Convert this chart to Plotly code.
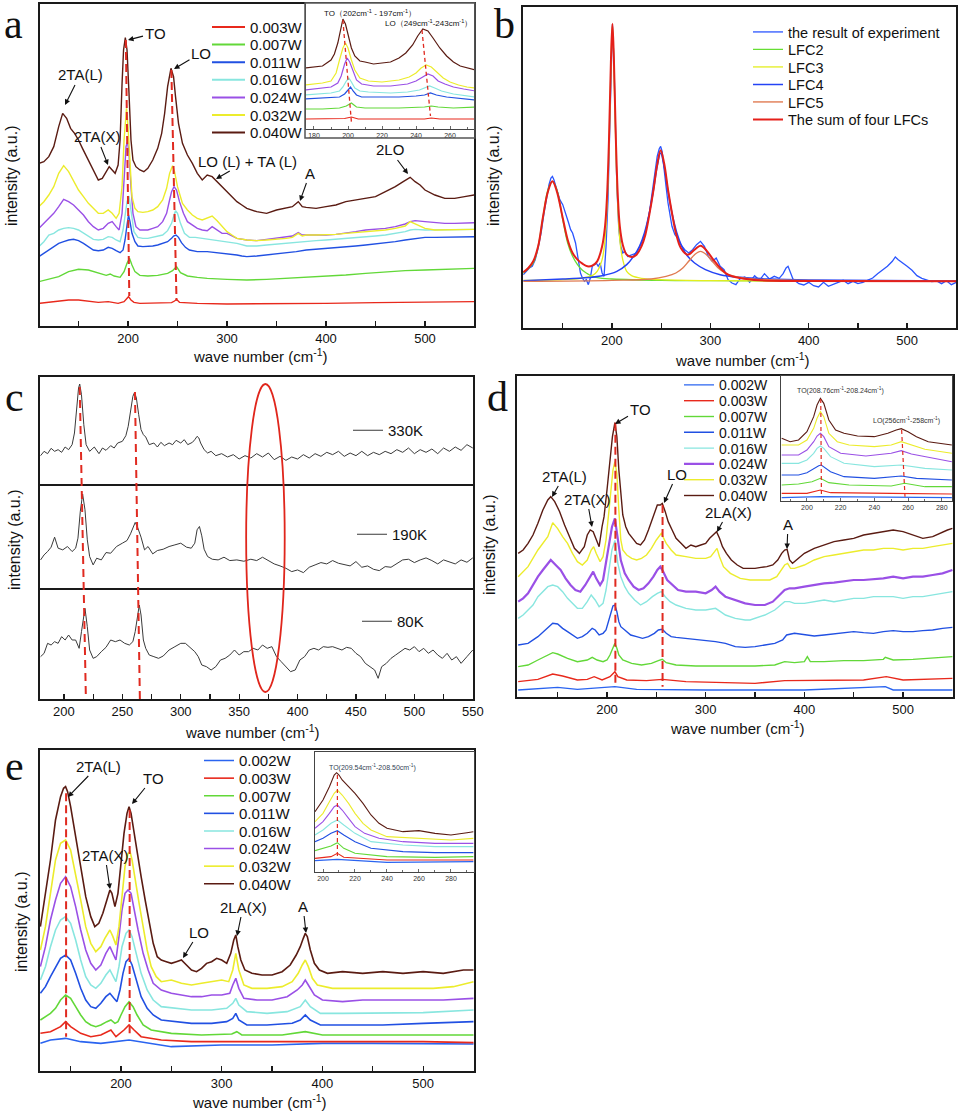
import plotly.graph_objects as go

W, H = 960, 1114
SANS = "Liberation Sans, Arial, Helvetica, sans-serif"
SERIF = "Liberation Serif, DejaVu Serif, Times New Roman, serif"


def X(p):
    return p / W


def Y(p):
    return 1 - p / H


# ---------------------------------------------------------------- labels
POWERS = ["0.002W", "0.003W", "0.007W", "0.011W", "0.016W", "0.024W", "0.032W", "0.040W"]
FIT_NAMES = ["the result of experiment", "LFC2", "LFC3", "LFC4", "LFC5", "The sum of four LFCs"]
TEMPS = ["330K", "190K", "80K"]

# ================================================================ panel a (main)
A040_WN = [110, 115, 120, 125, 130, 134, 138, 142, 146, 150, 154, 158, 162, 166, 170, 174, 178, 181, 184, 187,
           190, 192, 194, 195.5, 197.3, 199, 201, 203, 205, 208, 212, 216, 220, 225, 230, 234, 237, 240, 243.4, 246,
           248, 251, 255, 260, 265, 270, 275, 280, 285, 290, 295, 300, 305, 310, 315, 320, 330, 340, 350, 360,
           366, 372, 376, 380, 390, 400, 410, 420, 430, 440, 450, 460, 470, 478, 485, 490, 495, 500, 510, 520,
           530, 540, 550]
A040_I = [510, 515, 530, 560, 620, 660, 645, 615, 600, 580, 555, 530, 505, 485, 460, 465, 485, 500, 490, 480,
          505, 580, 750, 850, 887, 850, 720, 580, 520, 500, 490, 485, 495, 520, 555, 600, 660, 740, 795, 770,
          710, 630, 570, 535, 510, 480, 460, 475, 470, 455, 440, 425, 410, 395, 385, 375, 365, 360, 370, 375,
          380, 395, 380, 378, 375, 380, 385, 395, 400, 403, 410, 425, 440, 455, 468, 455, 445, 430, 415, 405,
          405, 410, 415]
A032_WN = [110, 115, 120, 125, 130, 135, 140, 145, 150, 155, 160, 165, 170, 175, 180, 184, 188, 191, 194, 196,
           198.5, 200, 202, 204, 207, 210, 215, 220, 225, 230, 235, 239, 242, 245, 247, 250, 255, 260, 265, 270,
           275, 280, 285, 290, 295, 300, 305, 310, 320, 330, 340, 350, 360, 366, 372, 376, 380, 390, 400, 410,
           420, 430, 440, 450, 460, 470, 480, 485, 490, 500, 510, 520, 530, 540, 550]
A032_I = [380, 395, 415, 440, 480, 503, 485, 455, 430, 410, 390, 375, 360, 360, 370, 360, 345, 360, 440, 580,
          675, 620, 500, 410, 375, 365, 363, 365, 370, 380, 400, 435, 480, 503, 485, 440, 390, 370, 355, 345,
          340, 345, 352, 338, 320, 305, 295, 285, 280, 278, 280, 282, 285, 288, 300, 292, 295, 295, 295, 297,
          300, 302, 305, 308, 310, 315, 322, 335, 328, 315, 310, 310, 310, 312, 312]
A024_WN = [110, 115, 120, 125, 130, 135, 140, 145, 150, 155, 160, 165, 170, 175, 180, 184, 188, 191, 194, 196,
           198, 199.5, 201, 203, 205, 208, 212, 216, 220, 225, 230, 235, 239, 242, 244, 246.5, 249, 252, 256, 260,
           265, 270, 275, 280, 285, 290, 295, 300, 310, 320, 330, 340, 350, 360, 366, 372, 376, 380, 390, 400,
           410, 420, 430, 440, 450, 460, 470, 480, 485, 490, 500, 510, 520, 530, 540, 550]
A024_I = [315, 330, 345, 360, 380, 402, 395, 385, 370, 355, 335, 320, 310, 315, 330, 335, 320, 310, 360, 480,
          560, 575, 540, 440, 360, 320, 310, 310, 310, 315, 320, 335, 360, 400, 425, 440, 430, 395, 360, 335,
          325, 315, 310, 308, 320, 310, 300, 300, 285, 280, 278, 282, 285, 288, 292, 302, 295, 295, 294, 295,
          297, 300, 305, 310, 312, 315, 320, 328, 335, 338, 335, 332, 330, 330, 332, 332]
A016_WN = [110, 115, 120, 125, 130, 135, 140, 145, 150, 155, 160, 165, 170, 175, 180, 184, 188, 192, 195, 197,
           199, 201, 203, 206, 210, 215, 220, 225, 230, 235, 240, 244, 246, 248, 250, 253, 257, 262, 268, 275,
           280, 285, 290, 300, 310, 320, 330, 340, 350, 360, 370, 380, 390, 400, 410, 420, 430, 440, 450, 460,
           470, 480, 485, 490, 500, 510, 520, 530, 540, 550]
A016_I = [260, 275, 295, 300, 310, 315, 317, 315, 310, 300, 290, 282, 280, 282, 290, 288, 280, 275, 310, 350,
          395, 412, 370, 305, 288, 285, 285, 288, 290, 295, 308, 330, 350, 368, 360, 330, 300, 288, 288, 285,
          285, 282, 280, 275, 270, 262, 262, 265, 268, 270, 272, 275, 278, 280, 282, 285, 288, 290, 292, 295,
          300, 305, 310, 312, 310, 310, 312, 312, 312, 312]
A011_WN = [110, 115, 120, 125, 130, 135, 140, 145, 150, 155, 160, 165, 170, 175, 180, 184, 188, 192, 195, 197,
           199, 200.5, 202, 204, 207, 210, 215, 220, 225, 230, 235, 240, 244, 246, 248.5, 251, 254, 258, 262, 270,
           280, 290, 300, 310, 315, 320, 330, 340, 350, 360, 370, 380, 390, 400, 410, 420, 430, 440, 450, 460,
           470, 480, 490, 500, 510, 520, 530, 540, 550]
A011_I = [230, 240, 250, 260, 270, 275, 280, 282, 278, 270, 260, 250, 248, 250, 258, 255, 248, 242, 250, 280,
          325, 355, 335, 300, 275, 262, 260, 260, 262, 265, 270, 275, 285, 292, 295, 288, 272, 258, 250, 245,
          245, 242, 240, 235, 232, 230, 232, 235, 238, 242, 245, 250, 252, 255, 257, 260, 262, 265, 268, 272,
          275, 280, 285, 288, 288, 288, 288, 290, 290]
A007_WN = [110, 120, 130, 140, 150, 160, 170, 178, 182, 186, 192, 196, 199, 201.5, 204, 207, 212, 220, 230, 240,
           245, 249, 253, 260, 270, 280, 300, 320, 340, 360, 380, 400, 420, 440, 460, 480, 500, 520, 540, 550]
A007_I = [155, 162, 170, 185, 192, 190, 180, 174, 178, 172, 168, 185, 210, 225, 205, 185, 174, 172, 174, 180,
          188, 200, 182, 172, 168, 165, 162, 160, 162, 165, 170, 172, 175, 180, 185, 188, 190, 192, 195, 195]
A003_WN = [110, 120, 130, 140, 150, 160, 170, 180, 185, 190, 196, 198, 200.5, 203, 206, 212, 230, 244, 247, 249,
           252, 270, 300, 350, 400, 450, 500, 550]
A003_I = [90, 93, 95, 100, 100, 97, 93, 95, 92, 90, 95, 102, 110, 100, 93, 90, 90, 92, 97, 102,
          93, 90, 88, 88, 90, 92, 93, 95]
A_TO_GUIDE_WN = [197.8, 201.3]
A_TO_GUIDE_I = [880, 112]
A_LO_GUIDE_WN = [243.8, 249.0]
A_LO_GUIDE_I = [790, 98]

# ---------------------------------------------------------------- panel a (inset)
AI040_WN = [175, 180, 185, 190, 192, 194, 195.5, 197, 198.5, 200, 202, 204, 207, 210, 215, 220, 225, 230, 234, 238,
            241, 244, 247, 250, 254, 258, 262, 266, 270, 275]
AI040_I = [60, 61, 62, 68, 74, 85, 98, 109, 104, 93, 80, 72, 67, 66, 64, 65, 66, 70, 75, 83,
           92, 99, 97, 90, 80, 72, 66, 62, 60, 58]
AI032_WN = [175, 180, 185, 190, 193, 195, 197, 198.5, 200, 202, 204, 207, 212, 220, 230, 236, 240, 243, 246, 249,
            252, 256, 260, 265, 270, 275]
AI032_I = [43, 44, 45, 47, 55, 68, 80, 85, 80, 68, 58, 50, 47, 46, 48, 51, 55, 60, 63, 61,
           56, 50, 46, 43, 41, 40]
AI024_WN = [175, 180, 185, 190, 194, 196, 198, 199.5, 201, 203, 205, 208, 215, 225, 235, 240, 244, 247, 250, 253,
            257, 262, 268, 275]
AI024_I = [38, 39, 40, 41, 45, 52, 64, 70, 66, 56, 48, 44, 42, 42, 44, 47, 51, 54, 52, 47,
           44, 41, 39, 37]
AI016_WN = [175, 185, 190, 195, 197, 199, 200.5, 202, 204, 207, 212, 225, 235, 242, 245, 248, 251, 255, 262, 275]
AI016_I = [33, 34, 35, 37, 41, 47, 50, 46, 40, 37, 36, 35, 36, 38, 40, 42, 40, 37, 34, 31]
AI011_WN = [175, 185, 190, 195, 198, 200, 201.5, 203, 205, 208, 215, 230, 240, 245, 248.5, 252, 258, 265, 275]
AI011_I = [29, 30, 30, 31, 34, 38, 41, 37, 33, 31, 31, 31, 32, 33, 35, 33, 31, 30, 28]
AI007_WN = [175, 185, 195, 199, 202, 205, 210, 230, 245, 249, 253, 262, 275]
AI007_I = [19, 19, 20, 22, 25, 21, 20, 20, 21, 22, 21, 20, 21]
AI003_WN = [175, 190, 198, 202, 206, 215, 245, 249, 254, 275]
AI003_I = [9, 9, 9.5, 11, 9, 9, 9, 10, 9, 9]
AI_TO_GUIDE_WN = [197, 202]
AI_TO_GUIDE_I = [108, 6]
AI_LO_GUIDE_WN = [243.5, 248.5]
AI_LO_GUIDE_I = [98, 12]

# ================================================================ panel b
B_EXP_WN = [110, 113, 116, 119, 122, 125, 128, 131, 134, 136, 138, 139.5, 141, 143, 145, 147, 150, 153, 156, 158,
            160, 163, 166, 168, 170, 172, 174, 176, 178, 180, 182, 184, 186, 188, 190, 192, 194, 196, 197.5, 199,
            200.5, 202, 203.5, 205, 207, 209, 211, 213, 216, 220, 225, 230, 234, 238, 241, 244, 246, 248, 249.5, 251,
            253, 255, 257, 259, 261, 264, 267, 270, 274, 278, 282, 286, 290, 294, 298, 302, 306, 310, 314, 318,
            322, 326, 330, 335, 340, 345, 350, 355, 360, 365, 370, 374, 377, 379, 381, 384, 390, 395, 400, 405,
            410, 415, 420, 425, 430, 435, 440, 445, 450, 455, 460, 465, 470, 475, 480, 485, 488, 491, 495, 500,
            505, 510, 515, 520, 525, 530, 535, 540, 545, 550]
B_EXP_I = [160, 170, 180, 185, 205, 240, 285, 345, 400, 430, 450, 455, 445, 425, 405, 385, 370, 345, 315, 295,
           285, 255, 205, 165, 150, 140, 145, 130, 150, 185, 190, 195, 185, 195, 165, 155, 245, 385, 565, 785,
           910, 805, 605, 425, 295, 245, 225, 230, 215, 220, 225, 255, 285, 345, 410, 475, 515, 537, 545, 530,
           485, 425, 375, 335, 305, 280, 270, 250, 235, 225, 235, 250, 260, 245, 215, 200, 210, 185, 175, 145,
           135, 130, 147, 153, 137, 157, 143, 163, 147, 155, 149, 163, 180, 185, 170, 147, 133, 129, 137, 127,
           123, 137, 125, 130, 137, 143, 133, 140, 133, 137, 143, 150, 163, 175, 185, 200, 213, 205, 195, 185,
           173, 157, 149, 145, 139, 141, 133, 142, 130, 137]
B_LFC2_WN = [110, 120, 125, 130, 135, 139.5, 144, 150, 155, 160, 165, 170, 175, 180, 190, 200, 250, 300, 550]
B_LFC2_I = [165, 195, 245, 335, 415, 440, 415, 325, 255, 215, 190, 173, 163, 155, 149, 147, 143, 142, 140]
B_LFC3_WN = [110, 150, 170, 180, 185, 190, 193, 195, 197, 199, 200.5, 202, 204, 206, 208, 211, 215, 220, 230, 250,
             300, 550]
B_LFC3_I = [143, 145, 150, 157, 170, 205, 265, 365, 535, 785, 910, 785, 535, 365, 265, 205, 170, 157, 149, 145,
            142, 140]
B_LFC4_WN = [110, 150, 170, 190, 205, 215, 222, 228, 233, 238, 242, 246, 249.5, 253, 257, 261, 266, 271, 277, 284,
             295, 310, 330, 360, 400, 550]
B_LFC4_I = [142, 147, 150, 157, 170, 190, 215, 245, 285, 345, 410, 485, 525, 485, 410, 345, 285, 245, 215, 195,
            175, 160, 152, 147, 144, 141]
B_LFC5_WN = [110, 200, 240, 255, 265, 272, 278, 284, 290, 296, 302, 308, 315, 325, 340, 370, 550]
B_LFC5_I = [140, 143, 147, 155, 165, 180, 200, 220, 230, 220, 200, 180, 165, 155, 148, 144, 140]
B_SUM_WN = [110, 115, 120, 125, 130, 135, 139.5, 144, 150, 155, 160, 165, 170, 175, 180, 185, 190, 193, 195, 197,
            199, 200.5, 202, 204, 206, 208, 211, 215, 220, 225, 230, 234, 238, 242, 246, 249.5, 253, 257, 261, 265,
            270, 277, 284, 290, 296, 303, 310, 318, 330, 350, 400, 550]
B_SUM_I = [167, 180, 200, 245, 335, 410, 440, 410, 330, 265, 225, 205, 193, 185, 187, 200, 245, 305, 395, 565,
           805, 913, 805, 565, 395, 305, 250, 220, 213, 220, 245, 280, 340, 410, 490, 533, 495, 415, 345, 285,
           240, 220, 235, 247, 233, 205, 180, 160, 150, 143, 141, 140]

# ================================================================ panel c
C330_WN = [180, 183, 186, 189, 192, 195, 198, 201, 204, 207, 209, 211, 212.5, 213.5, 215, 217, 219, 222, 226, 230,
           233, 236, 240, 243, 246, 250, 253, 255, 257, 259, 260.5, 262, 264, 266, 268, 270, 273, 277, 280, 283,
           286, 290, 293, 296, 300, 303, 306, 310, 312, 314, 315.5, 317, 320, 323, 326, 330, 335, 340, 345, 350,
           355, 360, 365, 370, 375, 380, 385, 390, 395, 400, 405, 410, 415, 420, 425, 430, 435, 440, 445, 450,
           455, 460, 465, 470, 475, 480, 485, 490, 495, 500, 505, 510, 515, 520, 525, 530, 535, 540, 545, 550]
C330_I = [122, 135, 128, 144, 135, 140, 132, 148, 140, 155, 190, 270, 325, 337, 305, 215, 155, 135, 148, 128,
          145, 138, 152, 145, 160, 165, 182, 210, 260, 300, 312, 295, 245, 200, 185, 178, 155, 160, 148, 162,
          152, 160, 155, 168, 160, 170, 155, 162, 170, 180, 175, 160, 140, 130, 135, 122, 128, 118, 125, 112,
          122, 115, 128, 118, 130, 110, 120, 108, 118, 112, 125, 115, 128, 120, 132, 125, 135, 120, 130, 122,
          135, 122, 132, 125, 135, 128, 140, 132, 145, 128, 140, 132, 142, 128, 145, 135, 148, 138, 155, 145]
C190_WN = [180, 183, 186, 189, 192, 195, 199, 203, 207, 210, 212, 214, 216, 218, 220, 222, 225, 228, 232, 236,
           240, 245, 250, 254, 257, 259, 261, 263, 266, 269, 272, 276, 280, 285, 290, 295, 300, 305, 309, 312,
           314, 316, 318, 320, 323, 327, 332, 337, 342, 348, 354, 360, 365, 370, 375, 380, 385, 390, 395, 400,
           405, 410, 415, 420, 425, 430, 435, 440, 445, 450, 455, 460, 465, 470, 475, 480, 485, 490, 495, 500,
           505, 510, 515, 520, 525, 530, 535, 540, 545, 550]
C190_I = [110, 125, 135, 148, 178, 145, 140, 150, 135, 145, 175, 255, 307, 260, 170, 120, 95, 115, 110, 132,
          130, 150, 160, 168, 188, 205, 222, 208, 178, 140, 150, 128, 138, 142, 150, 155, 160, 148, 145, 160,
          200, 210, 182, 142, 120, 112, 110, 118, 108, 110, 106, 112, 108, 118, 108, 98, 92, 85, 75, 80,
          72, 88, 95, 102, 98, 108, 100, 96, 92, 105, 88, 92, 82, 78, 90, 88, 100, 110, 112, 102,
          110, 116, 108, 98, 110, 103, 98, 110, 103, 116]
C80_WN = [180, 183, 186, 189, 192, 195, 198, 201, 204, 207, 210, 213, 215, 217, 218, 220, 222, 225, 228, 232,
          236, 240, 244, 248, 252, 256, 259, 261, 263, 264.5, 266, 268, 270, 273, 277, 281, 285, 290, 295, 300,
          304, 308, 312, 315, 318, 322, 326, 330, 334, 338, 342, 346, 350, 354, 358, 362, 366, 370, 374, 378,
          382, 386, 390, 394, 398, 402, 406, 410, 414, 418, 422, 426, 430, 434, 438, 442, 446, 450, 454, 458,
          462, 466, 469, 472, 476, 480, 484, 488, 492, 496, 500, 504, 508, 512, 516, 520, 524, 528, 532, 536,
          540, 545, 550]
C80_I = [210, 220, 250, 245, 255, 250, 270, 260, 275, 260, 260, 235, 285, 335, 355, 300, 230, 205, 210, 225,
         238, 260, 255, 260, 250, 245, 255, 285, 330, 365, 335, 260, 235, 215, 210, 205, 212, 230, 240, 250,
         250, 238, 225, 210, 185, 180, 170, 180, 200, 205, 215, 230, 215, 225, 225, 235, 230, 245, 235, 240,
         210, 195, 180, 165, 170, 200, 210, 230, 235, 230, 240, 238, 240, 235, 230, 238, 235, 220, 210, 190,
         180, 170, 145, 180, 190, 205, 215, 225, 235, 230, 240, 225, 235, 220, 230, 215, 205, 220, 200, 210,
         190, 210, 230]
C_GUIDE1_WN = [213.5, 218.8]
C_GUIDE2_WN = [260.8, 265.0]
C_ELLIPSE_WN = [356, 389]

# ================================================================ panel d (main)
D040_WN = [110, 115, 120, 125, 130, 135, 140, 143, 147, 152, 157, 162, 167, 172, 177, 180, 183, 186, 189, 192,
           195, 197, 200, 203, 205.5, 208, 210, 212, 214, 216, 219, 222, 226, 230, 234, 238, 242, 245, 248, 251,
           254, 256, 259, 262, 266, 270, 275, 280, 285, 290, 295, 300, 304, 308, 311, 314, 317, 321, 326, 332,
           338, 344, 350, 356, 362, 368, 373, 377, 380, 382.5, 385, 388, 392, 396, 400, 410, 420, 430, 440, 450,
           460, 470, 480, 490, 500, 510, 520, 530, 540, 545, 550]
D040_I = [431, 441, 461, 486, 521, 561, 591, 601, 586, 556, 516, 481, 446, 431, 451, 486, 501, 496, 471, 451,
          511, 541, 621, 701, 781, 823, 781, 681, 601, 546, 511, 491, 476, 461, 456, 471, 501, 526, 556, 576,
          576, 581, 556, 526, 501, 476, 461, 446, 456, 451, 456, 461, 476, 486, 496, 476, 451, 431, 411, 396,
          386, 386, 386, 389, 391, 396, 411, 431, 441, 443, 411, 401, 411, 421, 431, 446, 456, 466, 471, 476,
          486, 491, 496, 501, 496, 486, 476, 481, 496, 501, 506]
D032_WN = [110, 120, 130, 140, 145, 150, 155, 160, 165, 170, 175, 180, 184, 186.5, 189, 193, 196, 199, 202, 204,
           206, 208, 210, 212, 214, 216, 220, 225, 230, 235, 240, 245, 250, 255, 260, 265, 270, 280, 290, 300,
           305, 309, 311.5, 314, 318, 325, 335, 345, 355, 365, 372, 377, 380, 383, 386, 390, 400, 410, 420, 430,
           440, 450, 460, 470, 480, 490, 500, 510, 520, 530, 540, 550]
D032_I = [361, 391, 441, 481, 523, 505, 481, 461, 431, 406, 396, 411, 441, 451, 431, 406, 421, 471, 560, 630,
          680, 706, 670, 560, 471, 441, 426, 416, 411, 416, 426, 446, 471, 491, 461, 441, 426, 421, 416, 416,
          421, 436, 446, 421, 391, 371, 356, 351, 351, 351, 361, 381, 396, 401, 386, 386, 396, 411, 421, 426,
          431, 436, 441, 441, 446, 446, 441, 446, 446, 451, 456, 461]
D024_WN = [110, 115, 120, 125, 130, 135, 140, 143, 148, 153, 158, 163, 168, 173, 178, 183, 186, 189, 193, 196,
           199, 202, 205, 208, 211, 214, 218, 222, 227, 232, 237, 242, 247, 251, 254, 257, 261, 266, 272, 280,
           290, 300, 306, 310, 314, 320, 330, 340, 350, 360, 368, 375, 380, 385, 390, 400, 410, 420, 430, 440,
           450, 460, 470, 480, 490, 500, 510, 520, 530, 540, 550]
D024_I = [286, 296, 311, 336, 361, 381, 401, 411, 396, 381, 356, 336, 321, 316, 336, 361, 376, 356, 336, 351,
          401, 461, 510, 536, 470, 410, 371, 351, 331, 321, 326, 341, 361, 381, 391, 376, 351, 336, 321, 316,
          316, 311, 321, 331, 316, 301, 291, 281, 276, 276, 286, 306, 321, 326, 326, 331, 336, 341, 343, 346,
          351, 351, 353, 356, 361, 356, 361, 361, 366, 371, 381]
D016_WN = [110, 115, 120, 125, 130, 135, 140, 145, 150, 155, 160, 165, 170, 175, 180, 184, 188, 192, 196, 199,
           202, 205, 208, 211, 214, 218, 222, 228, 234, 240, 246, 251, 255, 259, 264, 270, 280, 290, 300, 310,
           315, 320, 330, 340, 345, 350, 360, 370, 380, 385, 390, 400, 410, 420, 430, 440, 450, 460, 470, 480,
           490, 500, 510, 520, 530, 540, 550]
D016_I = [236, 246, 261, 276, 301, 316, 331, 336, 331, 316, 296, 281, 266, 266, 286, 306, 291, 271, 281, 321,
          381, 441, 470, 401, 361, 331, 311, 291, 276, 286, 301, 311, 316, 301, 286, 276, 266, 261, 261, 266,
          256, 246, 236, 231, 231, 236, 246, 261, 286, 286, 281, 281, 286, 291, 286, 291, 296, 296, 301, 301,
          301, 296, 301, 301, 306, 311, 316]
D011_WN = [110, 120, 130, 140, 145, 150, 155, 160, 165, 170, 175, 180, 185, 188, 192, 196, 199, 202, 204, 206,
           208, 210, 212, 214, 218, 224, 230, 236, 242, 248, 252, 256, 260, 265, 270, 280, 290, 300, 310, 320,
           330, 340, 350, 360, 370, 378, 382, 390, 400, 410, 420, 430, 440, 450, 460, 470, 480, 490, 500, 510,
           520, 530, 540, 550]
D011_I = [156, 161, 181, 206, 221, 219, 206, 196, 186, 176, 181, 191, 206, 201, 186, 191, 201, 231, 256, 273,
          276, 256, 226, 211, 201, 186, 181, 176, 181, 191, 201, 203, 191, 181, 179, 176, 173, 171, 166, 161,
          151, 149, 151, 156, 161, 171, 186, 191, 186, 183, 186, 189, 191, 196, 193, 191, 196, 199, 196, 196,
          199, 201, 206, 209]
D007_WN = [110, 120, 130, 140, 145, 150, 160, 170, 180, 185, 190, 196, 200, 203, 206, 208, 210, 212, 216, 225,
           235, 245, 252, 256, 260, 270, 290, 310, 330, 350, 370, 380, 390, 400, 403, 406, 420, 440, 460, 480,
           482, 490, 510, 530, 550]
D007_I = [91, 96, 111, 126, 133, 129, 116, 106, 111, 119, 111, 106, 111, 126, 151, 161, 146, 126, 111, 101,
          96, 101, 109, 113, 103, 96, 93, 93, 91, 93, 96, 106, 103, 106, 121, 106, 106, 109, 109, 113,
          119, 111, 113, 116, 121]
D003_WN = [110, 130, 145, 155, 170, 180, 187, 195, 203, 208, 211, 220, 240, 256, 280, 320, 350, 380, 420, 460,
           483, 500, 550]
D003_I = [46, 53, 69, 63, 51, 53, 61, 51, 61, 76, 61, 51, 49, 53, 46, 43, 41, 49, 49, 51,
          61, 51, 56]
D002_WN = [110, 140, 150, 170, 208, 230, 300, 400, 482, 490, 550]
D002_I = [21, 26, 29, 23, 31, 23, 21, 21, 31, 21, 21]
D_TO_GUIDE_WN = [208.5, 208.5]
D_TO_GUIDE_I = [823, 31]
D_LO_GUIDE_WN = [256.3, 256.3]
D_LO_GUIDE_I = [576, 31]

# ---------------------------------------------------------------- panel d (inset)
DI040_WN = [185, 190, 195, 200, 204, 206, 208, 210, 213, 217, 222, 230, 240, 248, 253, 256, 260, 265, 272, 280, 286]
DI040_I = [187, 177, 182, 207, 252, 287, 307, 292, 242, 212, 202, 194, 192, 202, 212, 216, 207, 192, 177, 170, 167]
DI032_WN = [185, 195, 200, 204, 206, 208, 210, 213, 218, 225, 240, 250, 256, 262, 270, 286]
DI032_I = [167, 167, 182, 217, 247, 267, 252, 202, 177, 167, 162, 167, 177, 167, 154, 142]
DI024_WN = [185, 195, 200, 204, 206, 208, 210, 213, 220, 235, 250, 256, 262, 275, 286]
DI024_I = [137, 137, 152, 177, 194, 202, 192, 162, 142, 134, 142, 150, 140, 127, 117]
DI016_WN = [185, 195, 200, 204, 206, 208, 210, 214, 222, 240, 256, 270, 286]
DI016_I = [112, 112, 122, 142, 157, 164, 157, 132, 112, 102, 107, 97, 92]
DI011_WN = [185, 195, 200, 204, 207, 208.5, 210, 214, 222, 240, 256, 265, 286]
DI011_I = [77, 77, 84, 97, 105, 107, 102, 87, 72, 67, 74, 67, 62]
DI007_WN = [185, 195, 203, 208, 213, 225, 250, 258, 270, 286]
DI007_I = [47, 50, 57, 67, 54, 47, 44, 52, 42, 42]
DI003_WN = [185, 200, 208, 214, 250, 286]
DI003_I = [22, 22, 32, 24, 22, 20]
DI002_WN = [185, 208, 286]
DI002_I = [9, 12, 9]
DI_TO_GUIDE_WN = [208.2, 208.6]
DI_TO_GUIDE_I = [305, 15]
DI_LO_GUIDE_WN = [256.2, 258.2]
DI_LO_GUIDE_I = [212, 12]

# ================================================================ panel e (main)
E040_WN = [120, 125, 130, 135, 140, 143, 145, 147, 150, 155, 160, 165, 170, 174, 178, 182, 186, 189, 191, 194,
           197, 200, 203, 206, 208, 210, 213, 216, 220, 224, 228, 232, 236, 240, 245, 250, 255, 260, 265, 270,
           275, 280, 285, 290, 295, 300, 305, 309, 312, 314, 316, 319, 323, 330, 340, 350, 360, 368, 374, 378,
           381, 383, 385, 388, 392, 397, 405, 420, 440, 460, 480, 500, 520, 540, 550]
E040_I = [433, 533, 633, 753, 823, 848, 853, 838, 793, 703, 613, 523, 463, 433, 443, 473, 513, 543, 533, 493,
          533, 633, 713, 773, 793, 773, 713, 653, 583, 513, 443, 383, 343, 333, 328, 323, 328, 333, 318, 303,
          298, 308, 323, 328, 338, 333, 323, 353, 393, 408, 373, 333, 303, 293, 288, 288, 298, 318, 348, 373,
          398, 413, 403, 363, 323, 303, 293, 298, 293, 298, 293, 298, 293, 303, 303]
E032_WN = [120, 125, 130, 135, 140, 145, 150, 155, 160, 165, 170, 175, 180, 184, 189, 192, 195, 198, 201, 204,
           207, 209, 211, 214, 218, 222, 226, 230, 235, 240, 250, 260, 270, 280, 290, 300, 307, 311, 314, 317,
           322, 330, 345, 360, 370, 376, 380, 383, 386, 390, 395, 410, 430, 450, 470, 490, 510, 530, 550]
E032_I = [363, 433, 533, 633, 683, 693, 663, 593, 513, 433, 383, 358, 373, 398, 423, 403, 378, 433, 533, 613,
          653, 658, 633, 573, 503, 433, 363, 313, 283, 268, 273, 263, 258, 263, 268, 273, 268, 303, 353, 303,
          258, 248, 248, 253, 268, 293, 318, 333, 313, 278, 258, 248, 248, 248, 248, 248, 248, 253, 268]
E024_WN = [120, 125, 130, 135, 140, 145, 150, 155, 160, 165, 170, 175, 180, 185, 189, 192, 195, 198, 201, 204,
           207, 210, 213, 217, 222, 227, 232, 240, 250, 260, 270, 280, 290, 300, 308, 311, 314, 317, 322, 335,
           350, 365, 375, 380, 383, 386, 392, 400, 420, 440, 460, 480, 500, 520, 550]
E024_I = [313, 373, 453, 513, 563, 583, 553, 493, 423, 363, 323, 303, 318, 353, 373, 353, 333, 403, 483, 533,
          543, 533, 483, 423, 353, 303, 263, 243, 233, 228, 223, 223, 228, 228, 233, 258, 278, 248, 218, 213,
          213, 223, 243, 258, 273, 258, 228, 213, 208, 213, 213, 213, 213, 213, 218]
E016_WN = [120, 125, 130, 135, 140, 145, 150, 155, 160, 165, 170, 175, 180, 185, 189, 192, 195, 198, 201, 205,
           208, 211, 215, 220, 226, 232, 240, 255, 270, 290, 305, 311, 314, 317, 325, 345, 365, 378, 383, 388,
           398, 420, 460, 500, 550]
E016_I = [273, 313, 373, 423, 453, 463, 443, 393, 333, 283, 258, 248, 263, 288, 303, 283, 268, 313, 373, 413,
          423, 403, 353, 293, 243, 213, 193, 188, 183, 183, 188, 203, 218, 198, 178, 173, 178, 193, 213, 193,
          173, 173, 173, 175, 183]
E011_WN = [120, 125, 130, 135, 140, 145, 150, 155, 160, 165, 170, 175, 180, 185, 189, 193, 196, 199, 202, 205,
           208, 211, 215, 220, 226, 232, 240, 255, 270, 290, 305, 311, 314, 317, 325, 345, 370, 378, 383, 388,
           398, 420, 460, 500, 550]
E011_I = [233, 253, 283, 313, 338, 348, 333, 293, 248, 213, 193, 188, 203, 223, 233, 218, 208, 243, 293, 328,
          338, 318, 273, 223, 188, 168, 153, 148, 143, 143, 148, 158, 173, 153, 138, 138, 143, 153, 168, 153,
          138, 138, 138, 143, 148]
E007_WN = [120, 125, 130, 135, 140, 145, 150, 155, 160, 165, 170, 175, 180, 186, 190, 194, 197, 200, 204, 208,
           212, 216, 222, 230, 250, 280, 310, 315, 320, 360, 383, 400, 450, 500, 550]
E007_I = [153, 163, 173, 188, 213, 228, 218, 193, 168, 148, 138, 133, 138, 148, 153, 143, 148, 168, 193, 208,
          193, 168, 138, 123, 113, 108, 111, 118, 108, 108, 118, 108, 108, 108, 108]
E003_WN = [120, 130, 140, 145, 150, 160, 170, 180, 190, 195, 203, 208, 213, 220, 240, 270, 300, 350, 400, 450,
           500, 550]
E003_I = [113, 118, 133, 148, 133, 113, 103, 108, 123, 103, 123, 138, 123, 103, 93, 88, 88, 88, 88, 88,
          88, 85]
E002_WN = [120, 130, 145, 160, 180, 208, 250, 300, 350, 400, 450, 500, 550]
E002_I = [83, 93, 98, 88, 83, 93, 73, 78, 78, 83, 83, 81, 81]
E_TA_GUIDE_WN = [145.5, 145.5]
E_TA_GUIDE_I = [833, 103]
E_TO_GUIDE_WN = [208.6, 208.6]
E_TO_GUIDE_I = [783, 113]

# ---------------------------------------------------------------- panel e (inset)
EI040_WN = [195, 200, 204, 207, 208.5, 210, 212, 216, 220, 225, 230, 235, 240, 250, 260, 270, 280, 290, 294]
EI040_I = [180, 215, 255, 290, 297, 290, 275, 255, 235, 205, 170, 145, 130, 120, 123, 115, 110, 117, 120]
EI032_WN = [195, 200, 204, 207, 209, 212, 216, 220, 225, 230, 240, 260, 280, 294]
EI032_I = [150, 175, 210, 235, 245, 230, 205, 175, 145, 125, 105, 100, 95, 100]
EI024_WN = [195, 200, 204, 207, 209, 212, 216, 220, 226, 235, 250, 270, 294]
EI024_I = [130, 150, 175, 195, 200, 185, 160, 135, 115, 100, 90, 85, 85]
EI016_WN = [195, 200, 205, 209, 213, 220, 230, 250, 270, 294]
EI016_I = [110, 125, 145, 155, 140, 115, 90, 80, 75, 75]
EI011_WN = [195, 200, 205, 209, 213, 220, 230, 250, 270, 294]
EI011_I = [90, 100, 115, 123, 110, 90, 70, 60, 57, 57]
EI007_WN = [195, 200, 205, 209, 213, 220, 240, 270, 294]
EI007_I = [63, 70, 77, 87, 70, 55, 45, 43, 45]
EI003_WN = [195, 205, 209, 213, 240, 294]
EI003_I = [40, 45, 55, 43, 35, 35]
EI002_WN = [195, 209, 240, 294]
EI002_I = [33, 37, 28, 30]
EI_TO_GUIDE_WN = [209, 209]
EI_TO_GUIDE_I = [290, 45]

# ================================================================ styling
COLORS = {"0.002W": "#2a64f0", "0.003W": "#e8291c", "0.007W": "#62d838", "0.011W": "#2150e2",
          "0.016W": "#88e6df", "0.024W": "#9a50e6", "0.032W": "#ecec2c", "0.040W": "#5a1b12"}
FIT_COLORS = ["#2a55ff", "#66de33", "#e4ee1e", "#2443f5", "#e07b52", "#e5201a"]
GUIDE_RED = "#e02a20"

fig = go.Figure()
legends = {}
shapes = []
ann = []


def new_legend(sample_left, center_y, size):
    n = len(legends) + 1
    key = "legend" if n == 1 else "legend%d" % n
    legends[key] = dict(x=X(sample_left - 5), y=Y(center_y - 15), xanchor="left", yanchor="top",
                        bgcolor="rgba(0,0,0,0)", borderwidth=0, itemclick=False, itemdoubleclick=False,
                        font=dict(family=SANS, size=size, color="#111"))
    return key


def key_entry(name, color, sample_left, sample_right, center_y, size):
    """legend key drawn directly on the page: a short line sample followed by the series name"""
    shapes.append(dict(type="line", xref="paper", yref="paper", x0=X(sample_left), x1=X(sample_right),
                       y0=Y(center_y), y1=Y(center_y), line=dict(color=color, width=2)))
    ann.append(dict(x=X(sample_right + 3), y=Y(center_y), xref="paper", yref="paper", text=name,
                    showarrow=False, xanchor="left", yanchor="middle",
                    font=dict(family=SANS, size=size, color="#111")))


def add_line(x, y, ax, color, width, name=None, legend=None, dash=None, shape="linear"):
    sfx = "" if ax == 1 else str(ax)
    fig.add_trace(go.Scatter(
        x=x, y=y, xaxis="x" + sfx, yaxis="y" + sfx, mode="lines", name=name,
        line=dict(color=color, width=width, dash=dash, shape=shape),
        showlegend=legend is not None, legend=legend if legend else "legend", hoverinfo="skip"))


# ---------------- panel a
A_SERIES = [("0.003W", A003_WN, A003_I), ("0.007W", A007_WN, A007_I), ("0.011W", A011_WN, A011_I),
            ("0.016W", A016_WN, A016_I), ("0.024W", A024_WN, A024_I), ("0.032W", A032_WN, A032_I),
            ("0.040W", A040_WN, A040_I)]
for i, (nm, wn, it) in enumerate(A_SERIES):
    add_line(wn, it, 1, COLORS[nm], 1.4, nm)
    key_entry(nm, COLORS[nm], 212, 245, 27 + 17.6 * i, 15)
add_line(A_TO_GUIDE_WN, A_TO_GUIDE_I, 1, GUIDE_RED, 2, dash="8px,4px")
add_line(A_LO_GUIDE_WN, A_LO_GUIDE_I, 1, GUIDE_RED, 2, dash="8px,4px")

AI_SERIES = [("0.003W", AI003_WN, AI003_I), ("0.007W", AI007_WN, AI007_I), ("0.011W", AI011_WN, AI011_I),
             ("0.016W", AI016_WN, AI016_I), ("0.024W", AI024_WN, AI024_I), ("0.032W", AI032_WN, AI032_I),
             ("0.040W", AI040_WN, AI040_I)]
for nm, wn, it in AI_SERIES:
    add_line(wn, it, 2, COLORS[nm], 1.2)
add_line(AI_TO_GUIDE_WN, AI_TO_GUIDE_I, 2, GUIDE_RED, 1.3, dash="4px,3px")
add_line(AI_LO_GUIDE_WN, AI_LO_GUIDE_I, 2, GUIDE_RED, 1.3, dash="4px,3px")

# ---------------- panel b
B_SERIES = [(B_EXP_WN, B_EXP_I, 1.3), (B_LFC2_WN, B_LFC2_I, 1.3), (B_LFC3_WN, B_LFC3_I, 1.3),
            (B_LFC4_WN, B_LFC4_I, 1.5), (B_LFC5_WN, B_LFC5_I, 1.4), (B_SUM_WN, B_SUM_I, 2.0)]
for i, (wn, it, lw) in enumerate(B_SERIES):
    add_line(wn, it, 3, FIT_COLORS[i], lw, FIT_NAMES[i], new_legend(753, 31 + 17.5 * i, 14.5),
             shape="linear" if i == 0 else "spline")

# ---------------- panel c
C_SERIES = [(C330_WN, C330_I, 4, 353, 429), (C190_WN, C190_I, 5, 357, 533), (C80_WN, C80_I, 6, 362, 620)]
for i, (wn, it, ax, lx, ly) in enumerate(C_SERIES):
    add_line(wn, it, ax, "#3a3a3a", 1.0, TEMPS[i], new_legend(lx, ly, 15))

# ---------------- panel d
D_SERIES = [("0.002W", D002_WN, D002_I), ("0.003W", D003_WN, D003_I), ("0.007W", D007_WN, D007_I),
            ("0.011W", D011_WN, D011_I), ("0.016W", D016_WN, D016_I), ("0.024W", D024_WN, D024_I),
            ("0.032W", D032_WN, D032_I), ("0.040W", D040_WN, D040_I)]
for i, (nm, wn, it) in enumerate(D_SERIES):
    add_line(wn, it, 7, COLORS[nm], 2.2 if nm == "0.024W" else 1.4, nm, new_legend(684, 384.3 + 15.8 * i, 14))
add_line(D_TO_GUIDE_WN, D_TO_GUIDE_I, 7, GUIDE_RED, 2, dash="8px,4px")
add_line(D_LO_GUIDE_WN, D_LO_GUIDE_I, 7, GUIDE_RED, 2, dash="8px,4px")

DI_SERIES = [("0.002W", DI002_WN, DI002_I), ("0.003W", DI003_WN, DI003_I), ("0.007W", DI007_WN, DI007_I),
             ("0.011W", DI011_WN, DI011_I), ("0.016W", DI016_WN, DI016_I), ("0.024W", DI024_WN, DI024_I),
             ("0.032W", DI032_WN, DI032_I), ("0.040W", DI040_WN, DI040_I)]
for nm, wn, it in DI_SERIES:
    add_line(wn, it, 8, COLORS[nm], 1.1)
add_line(DI_TO_GUIDE_WN, DI_TO_GUIDE_I, 8, GUIDE_RED, 1.2, dash="4px,3px")
add_line(DI_LO_GUIDE_WN, DI_LO_GUIDE_I, 8, GUIDE_RED, 1.2, dash="4px,3px")

# ---------------- panel e
E_SERIES = [("0.002W", E002_WN, E002_I), ("0.003W", E003_WN, E003_I), ("0.007W", E007_WN, E007_I),
            ("0.011W", E011_WN, E011_I), ("0.016W", E016_WN, E016_I), ("0.024W", E024_WN, E024_I),
            ("0.032W", E032_WN, E032_I), ("0.040W", E040_WN, E040_I)]
for i, (nm, wn, it) in enumerate(E_SERIES):
    add_line(wn, it, 9, COLORS[nm], 1.6, nm, new_legend(204, 759.3 + 17.6 * i, 15))
add_line(E_TA_GUIDE_WN, E_TA_GUIDE_I, 9, GUIDE_RED, 2, dash="8px,4px")
add_line(E_TO_GUIDE_WN, E_TO_GUIDE_I, 9, GUIDE_RED, 2, dash="8px,4px")

EI_SERIES = [("0.002W", EI002_WN, EI002_I), ("0.003W", EI003_WN, EI003_I), ("0.007W", EI007_WN, EI007_I),
             ("0.011W", EI011_WN, EI011_I), ("0.016W", EI016_WN, EI016_I), ("0.024W", EI024_WN, EI024_I),
             ("0.032W", EI032_WN, EI032_I), ("0.040W", EI040_WN, EI040_I)]
for nm, wn, it in EI_SERIES:
    add_line(wn, it, 10, COLORS[nm], 1.1)
add_line(EI_TO_GUIDE_WN, EI_TO_GUIDE_I, 10, GUIDE_RED, 1.2, dash="4px,3px")

# ================================================================ axes
AX_COL = "#1a1a1a"


def xaxis(l, r, rng, anchor, main=True, **kw):
    d = dict(domain=[X(l), X(r)], range=rng, anchor=anchor, showgrid=False, zeroline=False,
             showline=True, mirror=True, linecolor=AX_COL if main else "#444",
             linewidth=1.6 if main else 1.0, ticks="inside", ticklen=5 if main else 3,
             tickwidth=1.2 if main else 0.8, tickcolor=AX_COL if main else "#444",
             tickfont=dict(family=SANS, size=13 if main else 7, color="#111" if main else "#333"),
             fixedrange=True)
    d.update(kw)
    return d


def yaxis(t, b, rng, anchor, main=True):
    return dict(domain=[Y(b), Y(t)], range=rng, anchor=anchor, showgrid=False, zeroline=False,
                showline=True, mirror=True, linecolor=AX_COL if main else "#444",
                linewidth=1.6 if main else 1.0, ticks="", showticklabels=False, fixedrange=True)


MAIN_TICKS = dict(tick0=0, dtick=100, minor=dict(dtick=50, ticks="inside", ticklen=5, tickwidth=1.2,
                                                   tickcolor=AX_COL))
INSET_TICKS = dict(tick0=0, dtick=20, minor=dict(dtick=10, ticks="inside", ticklen=2, tickwidth=0.8,
                                                  tickcolor="#444"))

layout_axes = dict(
    xaxis=xaxis(40, 474, [111.1, 549.5], "y", **MAIN_TICKS),
    yaxis=yaxis(4, 326, [22, 988], "x"),
    xaxis2=xaxis(306, 474, [175.3, 274.1], "y2", main=False, **INSET_TICKS),
    yaxis2=yaxis(3, 129, [-1, 125], "x2", main=False),
    xaxis3=xaxis(523, 956, [109.6, 549.7], "y3", **MAIN_TICKS),
    yaxis3=yaxis(7, 328, [0, 963], "x3"),
    # three stacked plots of panel c: the top one draws the top+middle borders, the bottom one the rest
    xaxis4=xaxis(40, 473, [179.5, 550.2], "y4", ticks="", showticklabels=False),
    yaxis4=yaxis(377, 484, [37, 358], "x4"),
    xaxis5=xaxis(40, 473, [179.5, 550.2], "y5", ticks="", showticklabels=False, showline=False),
    yaxis5=yaxis(484, 590, [20, 337], "x5"),
    xaxis6=xaxis(40, 473, [179.5, 550.2], "y6", tick0=0, dtick=50,
                 minor=dict(dtick=25, ticks="inside", ticklen=5, tickwidth=1.2, tickcolor=AX_COL)),
    yaxis6=yaxis(590, 699, [83, 410], "x6"),
    xaxis7=xaxis(517, 953, [108.8, 550.6], "y7", **MAIN_TICKS),
    yaxis7=yaxis(376, 697, [0, 963], "x7"),
    xaxis8=xaxis(781, 952, [184.6, 286.1], "y8", main=False, **INSET_TICKS),
    yaxis8=yaxis(376, 501, [-1, 374], "x8", main=False),
    xaxis9=xaxis(40, 474, [119.6, 550.5], "y9", **MAIN_TICKS),
    yaxis9=yaxis(750, 1071, [0, 963], "x9"),
    xaxis10=xaxis(315, 474, [195, 294.4], "y10", main=False, **INSET_TICKS),
    yaxis10=yaxis(752, 872, [-1, 359], "x10", main=False),
)

# ================================================================ shapes
shapes += [
    # frame of the inset in panel a (encloses its tick labels)
    dict(type="rect", xref="paper", yref="paper", x0=X(305), x1=X(475), y0=Y(138), y1=Y(3),
         line=dict(color="#555", width=1.5), layer="above"),
    # guide lines and ellipse of panel c spanning the three stacked plots
    dict(type="line", xref="x6", yref="paper", x0=C_GUIDE1_WN[0], x1=C_GUIDE1_WN[1], y0=Y(387), y1=Y(699),
         line=dict(color=GUIDE_RED, width=2, dash="8px,5px")),
    dict(type="line", xref="x6", yref="paper", x0=C_GUIDE2_WN[0], x1=C_GUIDE2_WN[1], y0=Y(392), y1=Y(699),
         line=dict(color=GUIDE_RED, width=2, dash="8px,5px")),
    dict(type="circle", xref="x6", yref="paper", x0=C_ELLIPSE_WN[0], x1=C_ELLIPSE_WN[1], y0=Y(692), y1=Y(384),
         line=dict(color="#e0261c", width=1.8)),
]

# ================================================================ annotations


def text(t, cx, cy, size=15, color="#111", family=SANS, **kw):
    d = dict(x=X(cx), y=Y(cy), xref="paper", yref="paper", text=t, showarrow=False,
             xanchor="center", yanchor="middle", font=dict(family=family, size=size, color=color))
    d.update(kw)
    ann.append(d)


def peak(t, cx, cy, hx, hy):
    """label centred at (cx, cy) with an arrow ending at (hx, hy)"""
    ann.append(dict(x=X(hx), y=Y(hy), xref="paper", yref="paper", text=t,
                    ax=cx - hx, ay=cy - hy, axref="pixel", ayref="pixel",
                    showarrow=True, arrowhead=2, arrowsize=1, arrowwidth=1.1, arrowcolor="#111",
                    font=dict(family=SANS, size=15, color="#111")))


# panel letters
for letter, lx, ly in [("a", 2, 24), ("b", 492, 24), ("c", 3, 397), ("d", 485, 397), ("e", 3, 766)]:
    text(letter, lx, ly, size=42, family=SERIF, xanchor="left")

# axis titles
XT = "wave number (cm<sup>-1</sup>)"
for cx, cy in [(260, 355), (742, 359), (252, 731), (737, 727), (259, 1101)]:
    text(XT, cx, cy, size=15)
for cx, cy in [(12, 176), (494, 176), (14, 540), (489, 545), (21, 922)]:
    text("intensity (a.u.)", cx, cy, size=16, textangle=-90)

# peak labels panel a
for t, cx, cy, hx, hy in [("TO", 155, 33, 128, 40), ("LO", 201, 53, 174, 69), ("2TA(L)", 80, 75, 65, 105),
                          ("2TA(X)", 97, 137, 108, 165), ("LO (L) + TA (L)", 247, 161, 216, 179),
                          ("A", 310, 173, 300, 201), ("2LO", 390, 150, 408, 174)]:
    peak(t, cx, cy, hx, hy)
text("TO（202cm<sup>-1</sup> - 197cm<sup>-1</sup>）", 322, 13, size=8, xanchor="left")
text("LO（249cm<sup>-1</sup>-243cm<sup>-1</sup>）", 383, 23, size=8, xanchor="left")

# peak labels panel d
for t, cx, cy, hx, hy in [("TO", 640, 409, 615, 424), ("2TA(L)", 564, 476, 552, 497),
                          ("2TA(X)", 587, 499, 592, 527), ("LO", 677, 474, 664, 503),
                          ("2LA(X)", 728, 512, 717, 532), ("A", 788, 524, 787, 549)]:
    peak(t, cx, cy, hx, hy)
text("TO(208.76cm<sup>-1</sup>-208.24cm<sup>-1</sup>)", 795, 391, size=7, color="#333", xanchor="left")
text("LO(256cm<sup>-1</sup>-258cm<sup>-1</sup>)", 871, 420, size=7, color="#333", xanchor="left")

# peak labels panel e
for t, cx, cy, hx, hy in [("2TA(L)", 98, 766, 68, 797), ("TO", 153, 778, 132, 804),
                          ("2TA(X)", 105, 855, 110, 889), ("LO", 199, 932, 183, 958),
                          ("2LA(X)", 243, 907, 237, 936), ("A", 303, 906, 306, 933)]:
    peak(t, cx, cy, hx, hy)
text("TO(209.54cm<sup>-1</sup>-208.50cm<sup>-1</sup>)", 327, 767, size=7, color="#345", xanchor="left")

fig.update_layout(
    width=W, height=H, margin=dict(l=0, r=0, t=0, b=0, autoexpand=False),
    paper_bgcolor="white", plot_bgcolor="white", showlegend=True,
    font=dict(family=SANS, color="#111"),
    shapes=shapes, annotations=ann, **layout_axes, **legends)

# the page's default 8px body margin would shift the whole figure; remove it
fig.write_html("out.html", config={"displayModeBar": False, "staticPlot": True},
               post_script="document.body.style.margin='0px';")
